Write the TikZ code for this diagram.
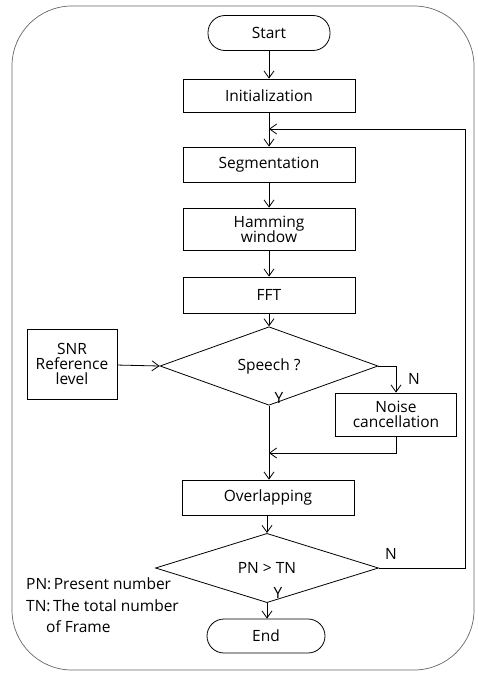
\documentclass[tikz,border=0pt]{standalone}
\usepackage{fontspec}
\setmainfont{Open Sans}
\usetikzlibrary{arrows.meta,shapes.geometric}
\begin{document}
\begin{tikzpicture}[x=1pt,y=-1pt,
  font=\fontsize{15.5}{18}\selectfont,
  every node/.style={inner sep=1pt},
  box/.style={draw,line width=0.8pt,minimum width=172pt,align=center},
  term/.style={draw,line width=0.8pt,rounded corners=17pt,minimum height=35pt},
  decide/.style={draw,line width=0.8pt,diamond,inner sep=0pt},
  flow/.style={line width=0.8pt,-{Straight Barb[length=7pt,width=10pt]}},
  link/.style={line width=0.8pt}]
  \useasboundingbox (0,0) rectangle (477,677);
  % outer frame
  \draw[black!60,line width=0.7pt,rounded corners=60pt]
    (12,6) rectangle (474,670);

  % main column
  \node[term,minimum width=122pt] (start) at (269,33) {Start};
  \node[box,minimum height=33pt] (init) at (269,95.5) {Initialization};
  \node[box,minimum height=35pt] (seg) at (269,164.5) {Segmentation};
  \node[box,minimum height=42pt] (ham) at (269,229) {Hamming\\[-3pt]window};
  \node[box,minimum height=36pt] (fft) at (269,295) {FFT};
  \node[decide,minimum width=218pt,minimum height=50pt] (speech) at (269,366) {Speech ?};
  \node[box,minimum width=90pt,minimum height=70pt] (snr) at (72,364) {SNR\\[-3pt]Reference\\[-3pt]level};
  \node[box,minimum width=121pt,minimum height=43pt] (noise) at (396,414.5) {Noise\\[-3pt]cancellation};
  \node[box,minimum height=35pt] (over) at (268,497.5) {Overlapping};
  \node[decide,minimum width=223pt,minimum height=34pt] (pn) at (267,568) {PN > TN};
  \node[term,minimum width=118pt,minimum height=34pt] (end) at (266,636) {End};

  % branch labels
  \node (n1) at (414,379) {N};
  \node (y1) at (279,398) {Y};
  \node (n2) at (391,554) {N};
  \node (y2) at (278,593) {Y};

  % legend
  \node[anchor=west] (l1) at (25,584) {PN:\,Present number};
  \node[anchor=west] (l2) at (25,606) {TN:\,The total number};
  \node[anchor=west] (l3) at (45,627) {of Frame};

  % helper points
  \coordinate (loopin) at (269,129);
  \coordinate (loopright) at (465,129);
  \coordinate (merge) at (269,453);

  % connectors
  \draw[flow] (start) -- (init);
  \draw[flow] (init) -- (seg);
  \draw[flow] (seg) -- (ham);
  \draw[flow] (ham) -- (fft);
  \draw[flow] (fft) -- (speech.north);
  \draw[flow] (snr) -- (speech.west);
  \draw[flow] (speech.east) -| (noise.north);
  \draw[flow] (noise.south) |- (merge);
  \draw[flow] (speech.south) -- (over.north -| speech.south);
  \draw[flow] (over.south -| pn.north) -- (pn.north);
  \draw[flow] (pn.south) -- (end.north -| pn.south);
  \draw[flow] (pn.east) -| (loopright) -- (loopin);
\end{tikzpicture}
\end{document}
